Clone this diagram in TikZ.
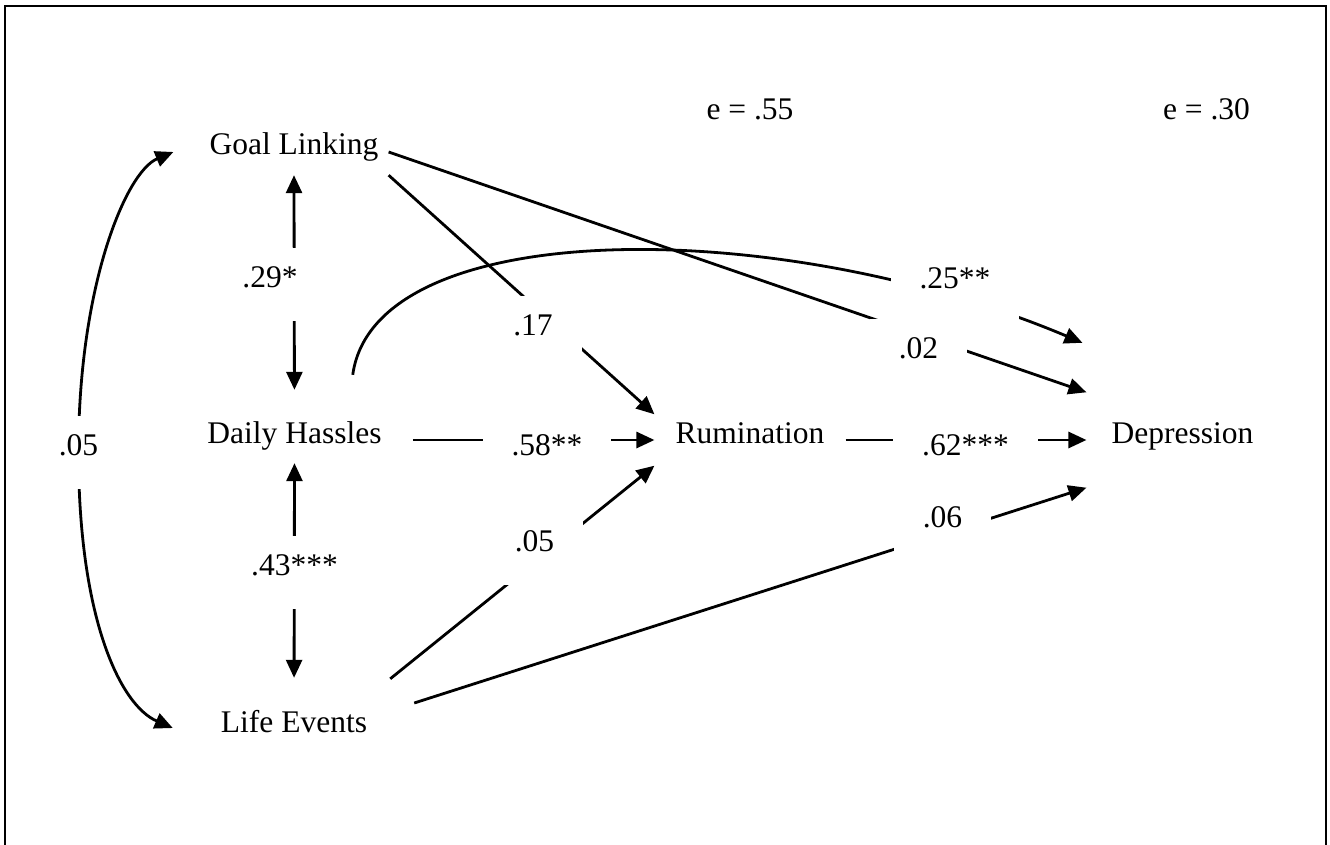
\documentclass[tikz,border=0pt]{standalone}
\usepackage{fontspec}
\setmainfont{Liberation Serif}
\usetikzlibrary{arrows.meta, backgrounds}

\begin{document}
\begin{tikzpicture}[x=1pt, y=-1pt, font=\fontsize{31.5}{38}\selectfont]
\tikzstyle{var} = [inner ysep=0pt, text height=21.5pt, text depth=15.5pt, anchor=base]
\tikzstyle{coef} = [fill=white, inner xsep=29pt, inner ysep=18pt, text height=21.5pt, text depth=15.5pt, anchor=base]
\tikzstyle{arrow} = [line width=2.8pt, -{Triangle[length=18pt, width=16pt]}]
\tikzstyle{biarrow} = [line width=2.8pt, {Triangle[length=18pt, width=16pt]}-{Triangle[length=18pt, width=16pt]}]

\useasboundingbox (0,0) rectangle (1330,845);
\draw[line width=2.6pt] (5,845) -- (5,6) -- (1326,6) -- (1326,845);

% variables
\node (gl) [var, inner xsep=10pt, minimum height=46pt] at (294,155) {Goal Linking};
\node (dh) [var, inner xsep=31pt] at (294.5,443) {Daily Hassles};
\node (le) [var, inner xsep=0pt] at (294,732) {Life Events};
\node (ru) [var, inner xsep=21pt, minimum height=51pt] at (750,443) {Rumination};
\node (de) [var, inner xsep=25pt, minimum height=95pt] at (1182.5,443) {Depression};
\node (e55) [var] at (750,120) {e = .55};
\node (e30) [var] at (1206.5,120) {e = .30};

% path coefficients
\node (c29) [coef] at (270,287) {.29*};
\node (c43) [coef] at (294.5,575) {.43***};
\node (c05l) [coef] at (78.5,455) {.05};
\node (c17) [coef] at (533,335) {.17};
\node (c58) [coef] at (547,455) {.58**};
\node (c05r) [coef] at (534.5,551) {.05};
\node (c25) [coef] at (955,288) {.25**};
\node (c02) [coef] at (918.5,358) {.02};
\node (c62) [coef] at (965.5,455) {.62***};
\node (c06) [coef] at (942.5,527) {.06};

\begin{pgfonlayer}{background}
% correlations
\draw [biarrow, shorten >=31.5pt] (gl.south) -- (dh.north);
\draw [biarrow, shorten <=4.5pt, shorten >=32.5pt] (dh.south) -- (le.north);
\draw [biarrow] ([xshift=-26pt]gl.west) .. controls +(-48,20) and +(0,-165) .. (c05l.center)
  .. controls +(0,165) and +(-53,-23) .. ([shift={(-48,-1)}]le.west);

% direct paths
\draw [arrow] (gl.south east) -- (ru.north west);
\draw [arrow] (gl.east) -- (de.north west);
\draw [arrow] (dh.east) -- (ru.west);
\draw [arrow] ([shift={(-60,-46.5)}]dh.north east) .. controls +(22,-160) and +(-303,-128) .. ([shift={(-4,-49.5)}]de.north west);
\draw [arrow] ([shift={(23,-31.5)}]le.north east) -- (ru.south west);
\draw [arrow] ([shift={(47,-26)}]le.east) -- (de.south west);
\draw [arrow] (ru.east) -- (de.west);
\end{pgfonlayer}

\end{tikzpicture}
\end{document}
